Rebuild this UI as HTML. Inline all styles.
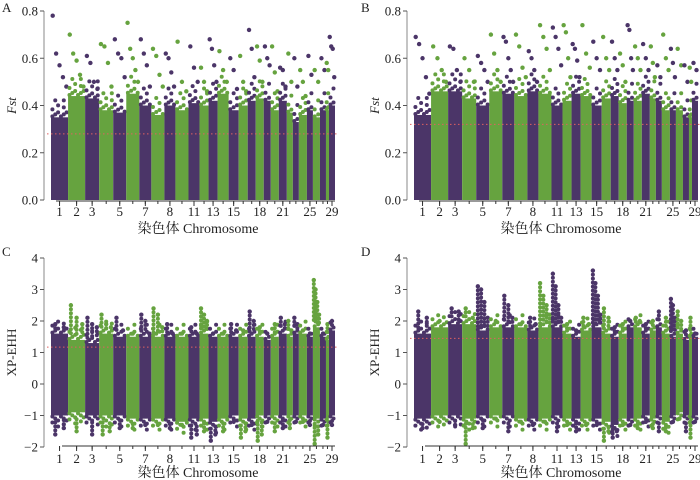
<!DOCTYPE html>
<html><head><meta charset="utf-8"><style>
html,body{margin:0;padding:0;background:#fff;}
svg{display:block;font-family:"Liberation Serif","Noto Serif CJK SC","Noto Sans CJK SC",serif;}
</style></head><body>
<svg id="fig" width="700" height="480" viewBox="0 0 700 480" xmlns="http://www.w3.org/2000/svg"></svg>
<script>
// relative chromosome sizes (chr1..chr29)
const chromSizes = [17,17,14,14,13,13,12,13,11,13,11,9,9,11,10,9,8,8,7,8,8,6,6,8,6,7,6,3,6];
const tickChroms = [1,2,3,5,7,9,11,13,15,18,21,25,29];
const tickLabels = ["1","2","3","5","7","8","11","13","15","18","21","25","29"];
const fstTicks = [0,0.2,0.4,0.6,0.8];
const fstTickLabels = ["0.0","0.2","0.4","0.6","0.8"];
const xpTicks = [-2,-1,0,1,2,3,4];
const xpTickLabels = ["\u22122","\u22121","0","1","2","3","4"];

// Panel A (Fst)
const fstA_band = [0.35,0.44,0.43,0.38,0.37,0.45,0.40,0.36,0.40,0.38,0.41,0.40,0.42,0.45,0.38,0.40,0.42,0.43,0.42,0.38,0.42,0.37,0.33,0.36,0.38,0.35,0.38,0.38,0.40];
const fstA_out = [[0.78,0.62,0.57,0.52,0.48],[0.70,0.62,0.59,0.53,0.48],[0.61,0.58,0.50,0.47],[0.66,0.65,0.58,0.48],[0.68,0.62,0.60,0.52],[0.75,0.64,0.60,0.55,0.50],[0.68,0.62,0.57,0.48],[0.64,0.61,0.53,0.48],[0.62,0.60,0.54,0.48],[0.67,0.50,0.46],[0.65,0.56,0.50],[0.56,0.50,0.46],[0.68,0.64,0.57,0.50],[0.63,0.55,0.50],[0.60,0.55,0.47],[0.61,0.50,0.46],[0.72,0.64,0.52],[0.65,0.59,0.50],[0.65,0.60,0.57],[0.65,0.54,0.46],[0.56,0.55,0.48],[0.62,0.50],[0.60,0.48],[0.55,0.50,0.44],[0.61,0.53],[0.55,0.50],[0.60,0.55],[0.58,0.55],[0.69,0.65,0.64,0.52]];
const fstA_threshold = 0.28;
// Panel B (Fst)
const fstB_band = [0.36,0.46,0.46,0.43,0.40,0.46,0.45,0.44,0.46,0.45,0.40,0.42,0.45,0.44,0.40,0.43,0.44,0.41,0.42,0.42,0.45,0.43,0.42,0.38,0.38,0.38,0.35,0.35,0.42];
const fstB_out = [[0.69,0.66,0.60,0.52,0.45],[0.65,0.60,0.55,0.50],[0.65,0.64,0.55,0.50],[0.60,0.55,0.50],[0.61,0.58,0.55,0.50],[0.70,0.62,0.55,0.50],[0.69,0.67,0.60,0.55,0.50],[0.70,0.65,0.56,0.52],[0.63,0.60,0.55,0.50],[0.74,0.69,0.64,0.55],[0.73,0.69,0.64,0.57],[0.74,0.71,0.60,0.52],[0.66,0.64,0.59,0.52],[0.74,0.62,0.56],[0.67,0.60,0.55],[0.69,0.60,0.55],[0.67,0.60,0.55],[0.62,0.57,0.50],[0.74,0.72,0.60,0.55],[0.65,0.60,0.55],[0.66,0.60,0.55],[0.65,0.58,0.52],[0.57,0.52],[0.70,0.60,0.55],[0.64,0.58,0.52],[0.64,0.57],[0.57,0.50],[0.56,0.50],[0.58,0.55]];
const fstB_threshold = 0.32;
// Panel C (XP-EHH)
const xpC_hi = [1.6,1.4,1.3,1.6,1.5,1.5,1.5,1.5,1.5,1.5,1.5,1.6,1.5,1.5,1.5,1.5,1.5,1.5,1.4,1.5,1.6,1.5,1.6,1.6,1.5,1.8,1.5,1.4,1.7];
const xpC_lo = [-1.0,-0.9,-1.0,-1.0,-1.0,-1.1,-1.1,-1.1,-1.1,-1.2,-1.1,-1.1,-1.2,-1.1,-1.0,-1.1,-1.1,-1.0,-1.0,-1.0,-1.0,-1.0,-1.0,-1.0,-1.0,-1.1,-1.1,-1.1,-1.0];
const xpC_up = [[1.9,1.8],[2.5,2.1,1.9],[2.1,1.9,1.8],[2.2,1.9,1.8],[2.1,1.7],[1.6],[2.2,2.0,1.6],[2.4,2.2,1.8],[1.9,1.6],[1.6],[1.8,1.6],[2.4,2.2,2.0],[1.6],[1.6],[1.9,1.7],[1.7],[2.3,2.0],[1.8],[1.6],[1.9],[2.1,1.9],[2.0,1.7],[2.1,1.9],[1.7],[1.6],[3.3,3.0,2.6,2.2],[1.6],[1.9],[2.0]];
const xpC_down = [[-1.6,-1.4],[-1.5],[-1.6],[-1.6,-1.5],[-1.4],[-1.4],[-1.3],[-1.3],[-1.4],[-1.3],[-1.7,-1.6],[-1.5],[-1.8,-1.6],[-1.5],[-1.2],[-1.7,-1.5],[-1.3],[-1.8,-1.6],[-1.2],[-1.5],[-1.4],[-1.4],[-1.2],[-1.2],[-1.3],[-1.9,-1.6],[-1.3],[-1.7],[-1.3]];
const xpC_threshold = 1.17;
// Panel D (XP-EHH)
const xpD_hi = [1.6,1.8,1.9,1.9,1.7,1.8,1.8,1.8,1.7,1.8,1.8,1.6,1.5,1.7,1.8,1.6,1.5,1.6,1.8,1.8,1.6,1.7,1.8,1.6,1.5,1.6,1.4,1.5,1.5];
const xpD_lo = [-1.1,-1.0,-1.0,-1.1,-1.0,-1.0,-1.0,-1.1,-1.1,-1.1,-1.0,-1.1,-1.1,-1.1,-1.1,-1.2,-1.3,-1.1,-1.1,-1.1,-1.0,-1.1,-1.0,-1.2,-1.0,-0.9,-1.0,-1.0,-1.0];
const xpD_up = [[2.3,2.1],[2.0],[2.4,2.3],[2.4,2.1],[3.1,3.0,2.6,2.1],[2.0],[2.8,2.5,2.1],[1.9],[2.1,1.9],[3.2,2.8,2.5,2.2],[3.5,3.1,2.5,2.1],[1.9],[1.7],[2.1,1.9],[3.6,3.2,2.8,2.2],[2.4,2.1],[1.8],[1.9],[2.0],[2.1,2.0],[1.9],[2.0],[2.3],[2.1],[2.7,2.5,2.1],[2.3,2.0],[1.7],[2.1],[1.6]];
const xpD_down = [[-1.4],[-1.2],[-1.3],[-1.9,-1.4],[-1.4],[-1.1],[-1.5],[-1.2],[-1.3],[-1.2],[-1.5],[-1.3],[-1.5],[-1.3],[-1.3],[-1.8,-1.5],[-1.7,-1.5],[-1.3],[-1.3],[-1.4],[-1.2],[-1.4],[-1.5],[-1.5],[-1.2],[-1.1],[-1.5],[-1.7],[-1.2]];
const xpD_threshold = 1.45;

const PURPLE = "#4b3568", GREEN = "#66a33f";
const NS = "http://www.w3.org/2000/svg";
const svg = document.getElementById("fig");
function mk(tag, attrs, parent) {
  const e = document.createElementNS(NS, tag);
  for (const k in attrs) e.setAttribute(k, attrs[k]);
  (parent || svg).appendChild(e);
  return e;
}

function panel(cfg) {
  const g = mk("g", {});
  
  
  const total = chromSizes.reduce((a, b) => a + b, 0);
  const xs = v => cfg.x0 + (v / total) * (cfg.x1 - cfg.x0);
  const ys = v => cfg.yTop + (cfg.yMax - v) / (cfg.yMax - cfg.yMin) * (cfg.yBot - cfg.yTop);
  const starts = [];
  let acc = 0;
  chromSizes.forEach(s => { starts.push(acc); acc += s; });

  chromSizes.forEach((s, i) => {
    const col = i % 2 === 0 ? PURPLE : GREEN;
    const cg = mk("g", {fill: col}, g);
    
    
    const xa = xs(starts[i]), xb = xs(starts[i] + s);
    const w = xb - xa;
    const hi = cfg.hi[i], lo = cfg.lo ? cfg.lo[i] : cfg.yMin;
    mk("rect", {x: xa, y: ys(hi), width: w, height: ys(lo) - ys(hi)}, cg);
    const nEdge = Math.max(2, Math.round(w / 3));
    for (let k = 0; k < nEdge; k++) {
      const cx = xa + w * (k + 0.5) / nEdge;
      const dy = (k % 3) * 2;
      mk("circle", {cx: cx, cy: ys(hi) - dy - 1, r: 2}, cg);
      if (cfg.lo) mk("circle", {cx: cx, cy: ys(lo) + dy + 1, r: 2}, cg);
      // sparse texture rows just beyond the dense band
      if (k % 2 === 0) {
        mk("circle", {cx: cx, cy: ys(hi) - 8 - dy, r: 2}, cg);
        if (cfg.lo) mk("circle", {cx: cx, cy: ys(lo) + 7 + dy, r: 2}, cg);
      }
      if (!cfg.lo && k % 3 === 1) mk("circle", {cx: cx, cy: ys(hi) - 15 - dy, r: 2}, cg);
    }
    const ups = cfg.up[i];
    ups.forEach((v, k) => {
      const cx = xa + w * (k + 0.5) / ups.length;
      mk("circle", {cx: cx, cy: ys(v), r: 2.2}, cg);
      const steps = Math.floor((ys(hi) - ys(v)) / 4);
      if (cfg.lo) for (let t = 1; t < steps; t++) mk("circle", {cx: cx, cy: ys(v) + t * 4, r: 2}, cg);
    });
    if (cfg.down) {
      const dn = cfg.down[i];
      dn.forEach((v, k) => {
        const cx = xa + w * (k + 0.5) / dn.length;
        mk("circle", {cx: cx, cy: ys(v), r: 2.2}, cg);
        const steps = Math.floor((ys(v) - ys(lo)) / 4);
        for (let t = 1; t < steps; t++) mk("circle", {cx: cx, cy: ys(v) - t * 4, r: 2}, cg);
      });
    }
  });

  const th = mk("line", {x1: cfg.x0 - 4, x2: cfg.x1 + 3, y1: ys(cfg.threshold), y2: ys(cfg.threshold), stroke: "#e06060", "stroke-width": 1, "stroke-dasharray": "1.5,2.5"}, g);
  
  

  const ya = mk("g", {}, g);
  
  
  mk("line", {x1: cfg.ax, x2: cfg.ax, y1: ys(cfg.yMax), y2: ys(cfg.yMin), stroke: "#888", "stroke-width": 1}, ya);
  cfg.yTicks.forEach((v, k) => {
    mk("line", {x1: cfg.ax - 4, x2: cfg.ax, y1: ys(v), y2: ys(v), stroke: "#555"}, ya);
    const t = mk("text", {x: cfg.ax - 6, y: ys(v) + 4.5, "text-anchor": "end", "font-size": 13, fill: "#222"}, ya);
    t.textContent = cfg.yTickLabels[k];
    
    
  });
  const yt = mk("text", {x: 0, y: 0, "text-anchor": "middle", "font-size": 13, fill: "#222", "font-style": cfg.italic ? "italic" : "normal", transform: `translate(${cfg.ax - 28},${(ys(cfg.yMax) + ys(cfg.yMin)) / 2}) rotate(-90)`}, g);
  yt.textContent = cfg.yTitle;
  
  

  const xaG = mk("g", {}, g);
  
  
  const axY = cfg.axY;
  mk("line", {x1: xs(starts[0] + 3) + (cfg.lo ? 8 : 2), x2: cfg.x1, y1: axY, y2: axY, stroke: "#333", "stroke-width": 1}, xaG);
  chromSizes.forEach((s, i) => {
    const cx = xs(starts[i] + s / 2);
    mk("line", {x1: cx, x2: cx, y1: axY, y2: axY + 3, stroke: "#333"}, xaG);
  });
  tickChroms.forEach((c, k) => {
    const cx = xs(starts[c - 1] + chromSizes[c - 1] / 2);
    mk("line", {x1: cx, x2: cx, y1: axY, y2: axY + 5, stroke: "#333"}, xaG);
    const t = mk("text", {x: cx, y: cfg.labY, "text-anchor": "middle", "font-size": 13, fill: "#222"}, xaG);
    t.textContent = tickLabels[k];
    
    
  });
  const xt = mk("text", {x: (cfg.x0 + cfg.x1) / 2 + 5, y: cfg.titleY, "text-anchor": "middle", "font-size": 14, fill: "#222"}, g);
  xt.textContent = "染色体 Chromosome";
  
  

  const pl = mk("text", {x: cfg.lx, y: cfg.ly, "font-size": 13, fill: "#222"}, g);
  pl.textContent = cfg.letter;
  
  
}

panel({name: "panel-a-fst", letter: "A", lx: 2, ly: 12, x0: 51, x1: 335, ax: 44, yTop: 11, yBot: 200, yMin: 0, yMax: 0.8,
  axY: 201, labY: 216, titleY: 233,
  yTicks: fstTicks, yTickLabels: fstTickLabels, yTitle: "Fst", italic: true, hi: fstA_band, up: fstA_out, threshold: fstA_threshold});
panel({name: "panel-b-fst", letter: "B", lx: 361, ly: 12, x0: 414, x1: 698, ax: 407, yTop: 11, yBot: 200, yMin: 0, yMax: 0.8,
  axY: 201, labY: 216, titleY: 233,
  yTicks: fstTicks, yTickLabels: fstTickLabels, yTitle: "Fst", italic: true, hi: fstB_band, up: fstB_out, threshold: fstB_threshold});
panel({name: "panel-c-xpehh", letter: "C", lx: 2, ly: 256, x0: 51, x1: 335, ax: 44, yTop: 258, yBot: 447, yMin: -2, yMax: 4,
  axY: 446, labY: 463, titleY: 477,
  yTicks: xpTicks, yTickLabels: xpTickLabels, yTitle: "XP-EHH", italic: false, hi: xpC_hi, lo: xpC_lo, up: xpC_up, down: xpC_down, threshold: xpC_threshold});
panel({name: "panel-d-xpehh", letter: "D", lx: 361, ly: 256, x0: 414, x1: 698, ax: 407, yTop: 258, yBot: 447, yMin: -2, yMax: 4,
  axY: 446, labY: 463, titleY: 477,
  yTicks: xpTicks, yTickLabels: xpTickLabels, yTitle: "XP-EHH", italic: false, hi: xpD_hi, lo: xpD_lo, up: xpD_up, down: xpD_down, threshold: xpD_threshold});
</script>
</body></html>
